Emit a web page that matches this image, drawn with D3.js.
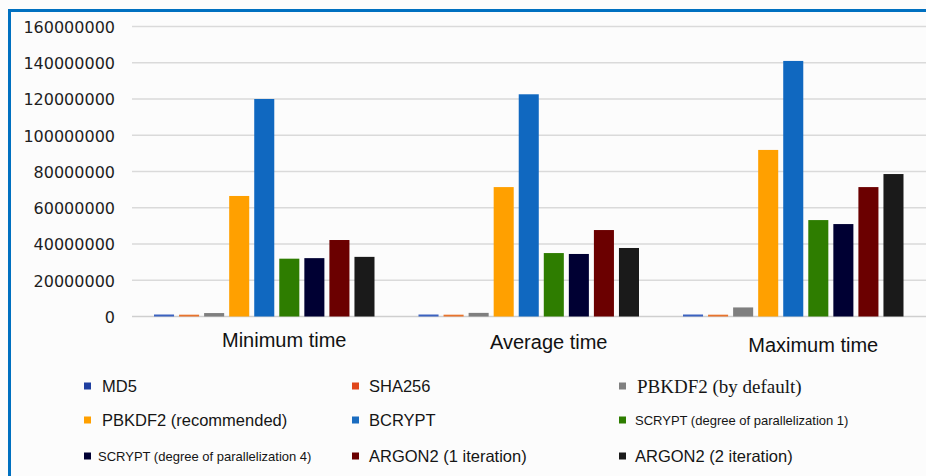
<!DOCTYPE html>
<html>
<head>
<meta charset="utf-8">
<script src="https://cdn.jsdelivr.net/npm/d3@7"></script>
<style>
html,body{margin:0;padding:0;background:#fcfcfc;}
svg{display:block;}
</style>
</head>
<body>
<svg id="chart" width="926" height="476"></svg>
<script>
// ---- data ----
const categories = ["Minimum time", "Average time", "Maximum time"];
const seriesNames = [
  "MD5", "SHA256", "PBKDF2 (by default)",
  "PBKDF2 (recommended)", "BCRYPT", "SCRYPT (degree of parallelization 1)",
  "SCRYPT (degree of parallelization 4)", "ARGON2 (1 iteration)", "ARGON2 (2 iteration)"
];
const md5Values        = [1100000, 1100000, 1100000];
const sha256Values     = [1000000, 1000000, 1000000];
const pbkdf2Default    = [1900000, 2000000, 5000000];
const pbkdf2Recommended= [66500000, 71400000, 91900000];
const bcryptValues     = [120000000, 122600000, 141000000];
const scrypt1Values    = [31900000, 35000000, 53200000];
const scrypt4Values    = [32200000, 34500000, 51000000];
const argon2_1Values   = [42200000, 47700000, 71400000];
const argon2_2Values   = [32900000, 37800000, 78600000];
const yTicks = [0, 20000000, 40000000, 60000000, 80000000, 100000000, 120000000, 140000000, 160000000];

const seriesValues = [md5Values, sha256Values, pbkdf2Default, pbkdf2Recommended, bcryptValues,
  scrypt1Values, scrypt4Values, argon2_1Values, argon2_2Values];

// ---- styles ----
const barColors = ["#3b62c0", "#e8732c", "#7f7f7f", "#ffa000", "#1068c0", "#2e7d00", "#000033", "#6b0000", "#1a1a1a"];
const markerColors = ["#1f3fa0", "#e0461a", "#808080", "#ffa000", "#1a6cc0", "#2e7d00", "#000033", "#6b0000", "#1a1a1a"];
const legendFonts = [
  {f: "Liberation Sans, Arial, sans-serif", s: 16.5},
  {f: "Liberation Sans, Arial, sans-serif", s: 16.5},
  {f: "Liberation Serif, Times New Roman, serif", s: 19},
  {f: "Liberation Sans, Arial, sans-serif", s: 16.5},
  {f: "Liberation Sans, Arial, sans-serif", s: 16.5},
  {f: "Liberation Sans, Arial, sans-serif", s: 13},
  {f: "Liberation Sans, Arial, sans-serif", s: 13},
  {f: "Liberation Sans, Arial, sans-serif", s: 16.5},
  {f: "Liberation Sans, Arial, sans-serif", s: 16.5}
];

const svg = d3.select("#chart");

// background + border
svg.append("rect").attr("x", 0).attr("y", 0).attr("width", 926).attr("height", 476).attr("fill", "#fcfcfc");
svg.append("line").attr("x1", 8).attr("x2", 926).attr("y1", 10.5).attr("y2", 10.5)
  .attr("stroke", "#0070c0").attr("stroke-width", 3);
svg.append("line").attr("x1", 9.5).attr("x2", 9.5).attr("y1", 9).attr("y2", 476)
  .attr("stroke", "#0070c0").attr("stroke-width", 3);

// scales
const x0 = d3.scaleBand().domain(categories).range([132, 925.5]).paddingInner(0).paddingOuter(0);
const x1 = d3.scaleBand().domain(d3.range(seriesNames.length))
  .range([22, x0.bandwidth() - 22]).paddingInner(0.2).paddingOuter(0);
const y = d3.scaleLinear().domain([0, 160000000]).range([316.5, 26.5]);

// gridlines
const yAxis = d3.axisLeft(y).tickValues(yTicks).tickSize(0).tickPadding(0).tickFormat(d3.format("d"));
const gAxis = svg.append("g").attr("transform", "translate(115,0)").call(yAxis);
gAxis.select(".domain").remove();
gAxis.selectAll("text")
  .attr("font-family", "DejaVu Sans, sans-serif")
  .attr("font-size", 16)
  .attr("fill", "#1e1e1e")
  .attr("dy", "0.36em");

svg.append("g").selectAll("line").data(yTicks).join("line")
  .attr("x1", 132).attr("x2", 926)
  .attr("y1", d => y(d)).attr("y2", d => y(d))
  .attr("stroke", d => d === 0 ? "#cfcfcf" : "#dadada")
  .attr("stroke-width", 1.6);

// bars
const groups = svg.append("g").selectAll("g").data(categories).join("g")
  .attr("transform", c => `translate(${x0(c)},0)`);
groups.selectAll("rect")
  .data((c, ci) => seriesValues.map((vals, si) => ({si, v: vals[ci]})))
  .join("rect")
  .attr("x", d => x1(d.si))
  .attr("width", x1.bandwidth())
  .attr("y", d => y(d.v))
  .attr("height", d => y(0) - y(d.v))
  .attr("fill", d => barColors[d.si]);

// category labels
const labelDy = [0, 2, 5];
svg.append("g").selectAll("text").data(categories).join("text")
  .attr("x", c => x0(c) + x0.bandwidth() / 2 + 20)
  .attr("y", (c, i) => 346.5 + labelDy[i])
  .attr("text-anchor", "middle")
  .attr("font-family", "Liberation Sans, Arial, sans-serif")
  .attr("font-size", 20)
  .attr("fill", "#111")
  .text(c => c);

// legend
const legCols = [84, 352, 619];
const legTextX = [102, 369, 637];
const legRows = [386, 420, 456];
const leg = svg.append("g").selectAll("g").data(seriesNames).join("g")
  .attr("transform", (d, i) => `translate(${legCols[i % 3]},${legRows[Math.floor(i / 3)]})`);
leg.append("rect")
  .attr("x", 0).attr("y", -3.5).attr("width", 7).attr("height", 7)
  .attr("fill", (d, i) => markerColors[i]);
leg.append("text")
  .attr("x", (d, i) => legTextX[i % 3] - legCols[i % 3] - (i === 6 ? 4 : 0) - (i === 5 || i === 8 ? 2 : 0))
  .attr("y", 0)
  .attr("dy", "0.36em")
  .attr("font-family", (d, i) => legendFonts[i].f)
  .attr("font-size", (d, i) => legendFonts[i].s)
  .attr("fill", "#151515")
  .text(d => d);
</script>
</body>
</html>
